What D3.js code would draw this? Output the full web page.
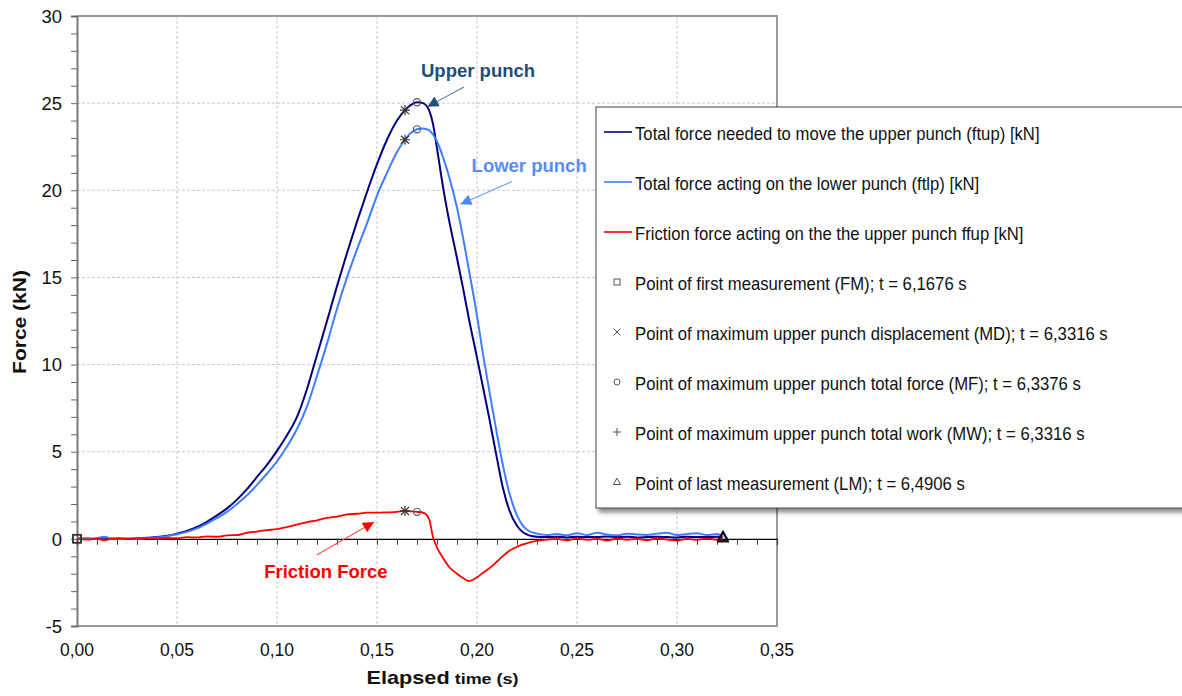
<!DOCTYPE html>
<html>
<head>
<meta charset="utf-8">
<script src="https://cdn.jsdelivr.net/npm/d3@7"></script>
<style>
  html, body { margin: 0; padding: 0; background: #fff; }
  svg { display: block; font-family: "Liberation Sans", Arial, sans-serif; }
</style>
</head>
<body>
<svg id="chart" width="1182" height="696"></svg>
<script>
// Elapsed time (s) shared by the three force series
const time = [0, 0.005, 0.01, 0.0135, 0.017, 0.02, 0.025, 0.03, 0.035, 0.04, 0.045, 0.05, 0.055, 0.06,
  0.065, 0.07, 0.075, 0.08, 0.085, 0.09, 0.095, 0.10, 0.105, 0.11, 0.115, 0.12, 0.125, 0.13, 0.135,
  0.14, 0.145, 0.15, 0.155, 0.16, 0.164, 0.167, 0.170, 0.173, 0.176, 0.178, 0.180, 0.183, 0.186,
  0.19, 0.193, 0.196, 0.20, 0.203, 0.206, 0.21, 0.213, 0.216, 0.22, 0.223, 0.226, 0.23,
  0.235, 0.24, 0.245, 0.25, 0.255, 0.26, 0.265, 0.27, 0.275, 0.28, 0.285, 0.29, 0.295, 0.30,
  0.305, 0.31, 0.315, 0.32, 0.323];

// Total force needed to move the upper punch (kN)
const ftup = [0, 0.02, -0.01, 0.08, 0.0, 0.02, 0.0, 0.03, 0.06, 0.1, 0.18, 0.3, 0.45, 0.68,
  0.98, 1.35, 1.75, 2.25, 2.85, 3.55, 4.25, 5.05, 5.95, 7.0, 8.6, 10.55, 12.5, 14.5, 16.4,
  18.2, 19.9, 21.5, 22.9, 24.0, 24.6, 24.9, 25.05, 25.0, 24.6, 23.8, 22.4, 20.2, 18.3,
  16.1, 14.4, 12.6, 10.4, 8.7, 7.0, 4.6, 2.9, 1.7, 0.75, 0.38, 0.2, 0.12,
  0.1, 0.12, 0.08, 0.12, 0.1, 0.1, 0.14, 0.1, 0.12, 0.08, 0.1, 0.12, 0.1, 0.08,
  0.12, 0.1, 0.1, 0.12, 0.05];

// Total force acting on the lower punch (kN)
const ftlp = [0.02, 0.0, 0.03, 0.12, 0.02, 0.0, 0.02, 0.02, 0.05, 0.08, 0.15, 0.26, 0.4, 0.6,
  0.88, 1.2, 1.55, 2.0, 2.5, 3.1, 3.75, 4.45, 5.3, 6.3, 7.6, 9.35, 11.2, 13.2, 15.0,
  16.6, 18.1, 19.7, 21.0, 22.2, 22.9, 23.3, 23.5, 23.55, 23.45, 23.2, 22.8, 21.9, 20.8,
  19.0, 17.3, 15.4, 12.8, 10.6, 8.6, 6.0, 4.2, 2.7, 1.35, 0.75, 0.45, 0.3,
  0.22, 0.28, 0.2, 0.32, 0.22, 0.35, 0.25, 0.2, 0.3, 0.25, 0.22, 0.3, 0.35, 0.22,
  0.28, 0.32, 0.22, 0.28, 0.1];

// Friction force acting on the upper punch (kN)
const ffup = [0, -0.04, 0.02, -0.08, 0.0, 0.03, 0.0, -0.02, 0.03, 0.02, 0.05, 0.04, 0.1, 0.08,
  0.14, 0.12, 0.2, 0.22, 0.35, 0.42, 0.5, 0.56, 0.68, 0.82, 0.96, 1.06, 1.2, 1.28, 1.4,
  1.44, 1.5, 1.5, 1.52, 1.55, 1.6, 1.58, 1.55, 1.5, 1.15, 0.1, -0.5, -1.1, -1.6,
  -2.0, -2.25, -2.42, -2.2, -1.95, -1.7, -1.3, -0.98, -0.7, -0.45, -0.32, -0.22, -0.12,
  -0.05, 0.0, -0.08, 0.03, -0.06, 0.0, -0.1, 0.02, -0.05, 0.0, -0.08, 0.02, -0.04, -0.1,
  0.0, -0.06, 0.02, -0.05, 0.0];

// Event times, elapsed from the first measurement (s)
const fmTime = 0;      // first measurement
const mdTime = 0.164;  // maximum upper punch displacement
const mfTime = 0.170;  // maximum upper punch total force
const mwTime = 0.164;  // maximum upper punch total work
const lmTime = 0.323;  // last measurement

const yTicks = [-5, 0, 5, 10, 15, 20, 25, 30];
const xTicks = [0, 0.05, 0.10, 0.15, 0.20, 0.25, 0.30, 0.35];

const seriesNames = [
  "Total force needed to move the upper punch (ftup) [kN]",
  "Total force acting on the lower punch (ftlp) [kN]",
  "Friction force acting on the the upper punch ffup [kN]"
];
const markerNames = [
  "Point of first measurement (FM); t = 6,1676 s",
  "Point of maximum upper punch displacement (MD); t = 6,3316 s",
  "Point of maximum upper punch total force (MF); t = 6,3376 s",
  "Point of maximum upper punch total work (MW); t = 6,3316 s",
  "Point of last measurement (LM); t = 6,4906 s"
];

const svg = d3.select("#chart");
const x = d3.scaleLinear().domain([0, 0.35]).range([77, 777]);
const y = d3.scaleLinear().domain([-5, 30]).range([626, 16]);
const fmt = d3.format(".2f");
const comma = v => fmt(v).replace(".", ",");

const defs = svg.append("defs");
const shadow = defs.append("filter").attr("id", "shadow")
  .attr("x", "-5%").attr("y", "-5%").attr("width", "115%").attr("height", "115%");
shadow.append("feDropShadow").attr("dx", 3).attr("dy", 4).attr("stdDeviation", 2.2)
  .attr("flood-color", "#000").attr("flood-opacity", 0.45);

function arrowMarker(id, color) {
  defs.append("marker").attr("id", id)
    .attr("viewBox", "0 0 10 10").attr("refX", 10).attr("refY", 5)
    .attr("markerUnits", "userSpaceOnUse")
    .attr("markerWidth", 13).attr("markerHeight", 11).attr("orient", "auto")
    .append("path").attr("d", "M0,0 L10,5 L0,10 Z").attr("fill", color);
}
arrowMarker("arrUp", "#1f4e79");
arrowMarker("arrLow", "#4f86f7");
arrowMarker("arrFr", "#ff0000");

// Gridlines
const grid = svg.append("g");
grid.selectAll("line.gx").data(xTicks.filter(d => d > 0 && d < 0.35)).join("line")
  .attr("x1", d => x(d)).attr("x2", d => x(d)).attr("y1", y(30)).attr("y2", y(-5))
  .attr("stroke", "#c8c8c8").attr("stroke-width", 1).attr("stroke-dasharray", "3,2");
grid.selectAll("line.gy").data(yTicks.filter(d => d > 0 && d < 30)).join("line")
  .attr("x1", x(0)).attr("x2", x(0.35)).attr("y1", d => y(d)).attr("y2", d => y(d))
  .attr("stroke", "#c8c8c8").attr("stroke-width", 1).attr("stroke-dasharray", "3,2");

// Frame (top, right, bottom)
svg.append("path")
  .attr("d", `M${x(0)},${y(30)} H${x(0.35)} V${y(-5)} H${x(0)}`)
  .attr("fill", "none").attr("stroke", "#9a9a9a").attr("stroke-width", 2);

// Y axis with minor ticks every 1 kN
const yAxis = d3.axisLeft(y).tickValues(d3.range(-5, 30.5, 1)).tickSize(6).tickFormat("");
const gy = svg.append("g").attr("transform", `translate(${x(0)},0)`).call(yAxis);
gy.select(".domain").attr("stroke", "#777").attr("stroke-width", 2);
gy.selectAll(".tick line").attr("stroke", "#666");
svg.append("g").selectAll("text").data(yTicks).join("text")
  .attr("x", 62).attr("y", d => y(d)).attr("dy", "0.36em")
  .attr("text-anchor", "end").attr("font-size", 18.5).attr("fill", "#111")
  .text(d => d);

// X axis along F = 0 with ticks every 0.01 s
const xAxis = d3.axisBottom(x).tickValues(d3.range(0, 0.3501, 0.01)).tickSize(6).tickFormat("");
const gx = svg.append("g").attr("transform", `translate(0,${y(0)})`).call(xAxis);
gx.select(".domain").attr("stroke", "#000").attr("stroke-width", 1.2);
gx.selectAll(".tick line").attr("stroke", "#444");
svg.append("g").selectAll("text").data(xTicks).join("text")
  .attr("x", d => x(d)).attr("y", 656)
  .attr("text-anchor", "middle").attr("font-size", 17.5).attr("fill", "#111")
  .text(d => comma(d));

// Axis titles
const xt = svg.append("g").attr("transform", "translate(366.5,684) scale(1.24,1.05)");
const xtt = xt.append("text").attr("font-weight", "bold").attr("fill", "#111");
xtt.append("tspan").attr("font-size", 17.5).text("Elapsed");
xtt.append("tspan").attr("font-size", 14.5).text(" time (s)");

svg.append("g").attr("transform", "translate(26,322) rotate(-90) scale(1.2,1.05)")
  .append("text").attr("text-anchor", "middle").attr("font-weight", "bold")
  .attr("font-size", 17.5).attr("fill", "#111").text("Force (kN)");

// Series
const series = [
  { name: seriesNames[0], values: ftup, color: "#00007f", width: 2 },
  { name: seriesNames[1], values: ftlp, color: "#3f7fff", width: 2 },
  { name: seriesNames[2], values: ffup, color: "#ff0000", width: 1.8 }
];
const line = d3.line().x(d => x(d[0])).y(d => y(d[1])).curve(d3.curveMonotoneX);
svg.append("g").selectAll("path").data(series).join("path")
  .attr("d", s => line(time.map((t, i) => [t, s.values[i]])))
  .attr("fill", "none").attr("stroke", s => s.color).attr("stroke-width", s => s.width)
  .attr("stroke-linejoin", "round");

// Event markers on every series
const valueAt = (s, t) => s.values[time.findIndex(v => Math.abs(v - t) < 1e-9)];
const mk = svg.append("g").attr("fill", "none");
series.forEach(s => {
  const sq = [x(fmTime), y(valueAt(s, fmTime))];
  mk.append("rect").attr("x", sq[0] - 4).attr("y", sq[1] - 4).attr("width", 8).attr("height", 8)
    .attr("stroke", "#333").attr("stroke-width", 1.2);
  const md = [x(mdTime), y(valueAt(s, mdTime))];
  mk.append("path").attr("d", `M${md[0]-4},${md[1]-4}L${md[0]+4},${md[1]+4}M${md[0]-4},${md[1]+4}L${md[0]+4},${md[1]-4}`)
    .attr("stroke", "#333").attr("stroke-width", 1.2);
  const mw = [x(mwTime), y(valueAt(s, mwTime))];
  mk.append("path").attr("d", `M${mw[0]-5},${mw[1]}H${mw[0]+5}M${mw[0]},${mw[1]-5}V${mw[1]+5}`)
    .attr("stroke", "#333").attr("stroke-width", 1.2);
  const mf = [x(mfTime), y(valueAt(s, mfTime))];
  mk.append("circle").attr("cx", mf[0]).attr("cy", mf[1]).attr("r", 3.6)
    .attr("stroke", "#555").attr("stroke-width", 1.1);
  const lm = [x(lmTime), y(valueAt(s, lmTime))];
  mk.append("path").attr("d", `M${lm[0]},${lm[1]-6}L${lm[0]+5},${lm[1]+3}L${lm[0]-5},${lm[1]+3}Z`)
    .attr("stroke", "#111").attr("stroke-width", 1.4);
});

// Annotations (positioned in data units)
const notes = [
  { text: "Upper punch", color: "#1f4e79", lineColor: "#5a7fa8", marker: "arrUp",
    tx: 0.172, ty: 26.5, from: [0.1935, 25.93], to: [0.1752, 24.8] },
  { text: "Lower punch", color: "#5a8df2", lineColor: "#6d9cf7", marker: "arrLow",
    tx: 0.1973, ty: 21.04, from: [0.2175, 20.5], to: [0.1917, 19.2] },
  { text: "Friction Force", color: "#ff0000", lineColor: "#ff5050", marker: "arrFr",
    tx: 0.0936, ty: -2.25, from: [0.1198, -0.93], to: [0.1485, 0.97] }
];
const an = svg.append("g");
notes.forEach(n => {
  an.append("line")
    .attr("x1", x(n.from[0])).attr("y1", y(n.from[1]))
    .attr("x2", x(n.to[0])).attr("y2", y(n.to[1]))
    .attr("stroke", n.lineColor).attr("stroke-width", 1.1)
    .attr("marker-end", `url(#${n.marker})`);
  an.append("text").attr("x", x(n.tx)).attr("y", y(n.ty))
    .attr("font-size", 18.5).attr("font-weight", "bold").attr("fill", n.color)
    .text(n.text);
});

// Legend
const lg = svg.append("g");
lg.append("rect").attr("x", 596).attr("y", 107).attr("width", 610).attr("height", 401)
  .attr("fill", "#fff").attr("stroke", "#444").attr("stroke-width", 1)
  .attr("filter", "url(#shadow)");
const rowY = i => 132 + i * 50;
const legendText = (i, label) =>
  lg.append("g").attr("transform", `translate(635,${rowY(i) + 1}) scale(1,1.1)`)
    .append("text").attr("dy", "0.36em").attr("font-size", 16.7).attr("fill", "#111").text(label);
series.forEach((s, i) => {
  lg.append("line").attr("x1", 604).attr("x2", 632).attr("y1", rowY(i)).attr("y2", rowY(i))
    .attr("stroke", s.color).attr("stroke-width", 1.6);
  legendText(i, s.name);
});
const legendSymbols = [
  (g, cx, cy) => g.append("rect").attr("x", cx - 3).attr("y", cy - 3).attr("width", 6).attr("height", 6),
  (g, cx, cy) => g.append("path").attr("d", `M${cx-3.5},${cy-3.5}L${cx+3.5},${cy+3.5}M${cx-3.5},${cy+3.5}L${cx+3.5},${cy-3.5}`),
  (g, cx, cy) => g.append("circle").attr("cx", cx).attr("cy", cy).attr("r", 3),
  (g, cx, cy) => g.append("path").attr("d", `M${cx-4},${cy}H${cx+4}M${cx},${cy-4}V${cy+4}`),
  (g, cx, cy) => g.append("path").attr("d", `M${cx},${cy-4}L${cx+3.5},${cy+2.5}L${cx-3.5},${cy+2.5}Z`)
];
markerNames.forEach((name, j) => {
  const i = j + 3;
  legendSymbols[j](lg, 617, rowY(i))
    .attr("fill", "none").attr("stroke", "#555").attr("stroke-width", 1);
  legendText(i, name);
});
</script>
</body>
</html>
